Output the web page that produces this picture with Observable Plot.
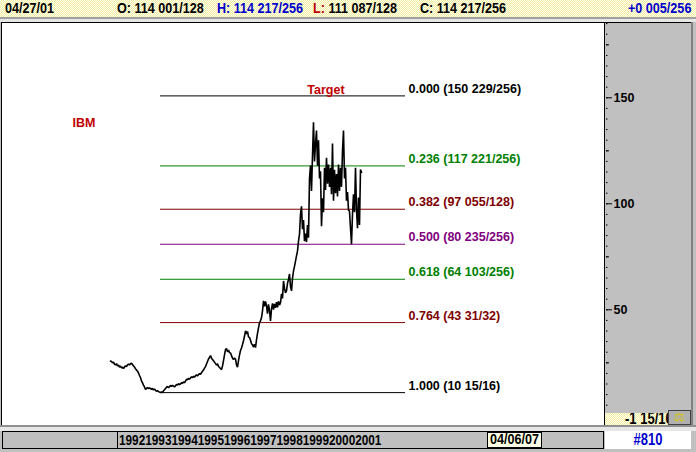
<!DOCTYPE html>
<html><head><meta charset="utf-8">
<script src="https://cdn.jsdelivr.net/npm/d3@7"></script>
<script src="https://cdn.jsdelivr.net/npm/@observablehq/plot@0.6"></script>
<style>
body{margin:0;width:696px;height:452px;overflow:hidden;background:#c0c0c0;position:relative;font-family:"Liberation Sans",Arial,sans-serif;}
.abs{position:absolute;box-sizing:border-box;}
.tall{font-family:"Liberation Sans",Arial,sans-serif;font-weight:bold;transform:scaleY(1.2);transform-origin:0 50%;white-space:nowrap;}
.stip{background:repeating-conic-gradient(#f1ec9e 0 25%, #fffff4 0 50%) 0 0/2px 2px;}
#plot svg{overflow:visible;}
#plot g[aria-label="y-axis tick label"] text{font-family:"Liberation Sans",Arial,sans-serif;font-weight:bold;font-size:12.5px;}
</style></head>
<body>
<div class="abs stip" style="left:0;top:0;width:696px;height:17px;"></div>
<div class="abs" style="left:0;top:17px;width:696px;height:2px;background:#a0a0a0;"></div>
<div class="abs" style="left:0;top:19px;width:696px;height:3px;background:#e6e6e6;"></div>
<div class="abs" style="left:1px;top:22px;width:692px;height:403px;background:#000;"></div>
<div class="abs" style="left:2px;top:23px;width:602px;height:402px;background:#fff;"></div>
<div class="abs" style="left:605px;top:23px;width:86px;height:402px;background:#c0c0c0;"></div>
<div class="abs" style="left:691px;top:22px;width:2px;height:403px;background:#808080;"></div>
<div class="abs" style="left:0;top:425px;width:696px;height:2px;background:#909090;"></div>
<div class="abs" style="left:0;top:427px;width:696px;height:4px;background:#e6e6e6;"></div>

<div id="plot" class="abs" style="left:3px;top:23px;"></div>

<div class="abs stip" style="left:605px;top:413px;width:63px;height:12px;overflow:hidden;">
  <div id="lowlab" class="abs tall" style="left:20px;top:-2px;font-size:13px;line-height:15px;"></div>
</div>
<div class="abs" style="left:668px;top:410px;width:23px;height:15px;background:#b0b0b0;border:1px solid #404040;font-size:12px;line-height:13px;text-align:center;color:#d8c800;font-family:'DejaVu Sans',sans-serif;">⚖</div>

<div class="abs" style="left:2px;top:431px;width:602px;height:18px;background:#c0c0c0;border:1px solid #000;"></div>
<div class="abs" style="left:117px;top:431px;width:1px;height:18px;background:#000;"></div>
<div id="years" class="abs tall" style="left:119px;top:431px;height:18px;font-size:11.8px;line-height:18px;color:#000;"></div>
<div class="abs" style="left:487px;top:432px;width:55px;height:16px;background:#ffffe6;border:1px solid #000;"></div>
<div id="dbox" class="abs tall" style="left:489px;top:432px;width:51px;height:16px;font-size:12.6px;line-height:15px;text-align:center;transform-origin:50% 50%;"></div>
<div class="abs" style="left:605px;top:431px;width:86px;height:18px;background:#fff;"></div>
<div id="fid" class="abs tall" style="left:605px;top:431px;width:86px;height:18px;font-size:13px;line-height:18px;text-align:center;color:#0000cc;transform-origin:50% 50%;"></div>

<div id="topbar"></div>

<script>
// ---- data ----
const headerDate = "04/27/01";
const quoteLabels = ["O:", "H:", "L:", "C:"];
const quoteValues = ["114 001/128", "114 217/256", "111 087/128", "114 217/256"];
const changeLabel = "+0 005/256";
const yearLabels = ["1992","1993","1994","1995","1996","1997","1998","1999","2000","2001"];
const footerDate = "04/06/07";
const footerId = "#810";
const scaleLowLabel = "-1 15/16";

// IBM closes, one reading every two weeks, ending 2001-04-27
const lastDate = "2001-04-27";
const stepDays = 14;
const closes = [
 25.8,25.6,25.0,25.3,24.4,24.0,24.6,23.5,23.9,23.0,
 23.4,22.6,22.9,22.3,23.0,23.6,23.2,24.0,24.3,24.0,
 24.6,24.8,24.2,23.5,23.0,22.2,21.6,21.0,20.2,19.0,
 18.0,16.5,15.5,14.5,13.6,12.4,12.9,13.3,12.8,13.2,
 12.9,12.5,12.9,12.2,12.6,12.0,11.6,11.9,11.4,11.2,
 10.94,11.3,11.0,11.8,12.3,12.9,13.5,13.8,13.3,13.7,
 14.3,13.9,14.4,14.0,13.6,14.2,14.8,14.5,15.2,14.7,
 15.0,15.6,15.3,16.0,15.6,16.4,17.2,17.0,17.7,17.3,
 17.8,18.4,18.0,18.6,18.2,18.9,19.3,18.8,19.4,19.9,
 19.6,20.3,21.0,21.6,22.5,23.2,24.4,25.6,26.8,27.6,
 28.4,27.2,26.6,26.0,25.3,24.6,23.9,24.5,23.4,22.8,
 22.3,21.8,23.5,26.0,28.7,31.2,31.7,30.2,31.0,29.8,
 29.6,28.4,27.2,26.5,27.3,26.8,24.0,22.9,26.0,28.6,
 30.8,32.0,33.6,35.4,37.5,40.1,38.6,39.8,37.2,36.9,
 35.6,34.0,33.5,32.4,33.8,32.2,35.8,38.9,41.5,43.9,
 44.8,46.2,49.5,54.2,51.6,53.9,51.9,48.2,52.6,49.7,
 44.8,50.4,53.0,50.1,52.8,50.9,53.6,51.2,54.0,52.2,
 53.3,57.5,55.4,63.6,60.1,58.0,58.9,62.5,64.3,66.9,
 61.0,58.9,64.8,68.3,70.5,73.0,75.4,77.7,82.4,85.7,
 95.1,98.8,88.0,92.3,82.4,86.0,82.0,90.0,84.0,112.0,
 118.0,106.0,122.8,138.4,120.0,128.4,134.6,118.0,130.0,112.0,
 115.3,89.4,102.6,96.0,117.0,106.5,121.7,109.5,118.5,108.0,
 117.0,104.5,128.4,101.5,116.0,105.0,114.0,103.5,118.5,106.0,
 117.0,108.0,125.0,134.6,112.0,117.0,101.5,105.5,97.0,96.5,
 88.5,81.0,95.0,104.5,96.0,117.0,97.5,88.5,103.0,90.0,116.2,114.85
];

const fibRatios = ["0.000","0.236","0.382","0.500","0.618","0.764","1.000"];
const fibPrices = [150.895, 117.863, 97.430, 80.918, 64.402, 43.969, 10.938];
const fibPriceLabels = ["150 229/256","117 221/256","97 055/128","80 235/256","64 103/256","43 31/32","10 15/16"];
const fibColors = ["#000000","#008000","#800000","#800080","#008000","#800000","#000000"];
const fibStart = "1993-08-13";
const fibEnd = "2003-01-03";

const annotations = [
  {text: "Target", date: "1999-12-16", value: 153.9},
  {text: "IBM", date: "1990-09-07", value: 137.9}
];
const yTickLabels = [50, 100, 150];
const yMidTicks = [25, 75, 125, 175];

// ---- build ----
const end = new Date(lastDate);
const series = closes.map((c, i) => ({
  date: new Date(+end - (closes.length - 1 - i) * stepDays * 864e5),
  close: c
}));
const fib = fibRatios.map((r, i) => ({
  ratio: r, price: fibPrices[i], label: fibPriceLabels[i], color: fibColors[i]
}));
const ann = annotations.map(a => ({...a, date: new Date(a.date)}));

const chart = Plot.plot({
  width: 690, height: 402,
  marginLeft: 0, marginRight: 88, marginTop: 0, marginBottom: 0,
  style: {background: "transparent", fontFamily: "'Liberation Sans', Arial, sans-serif", overflow: "visible"},
  x: {type: "utc", domain: [series[0].date, series[series.length - 1].date], range: [107, 358], axis: null},
  y: {domain: [0, 150], range: [392.3, 74.3]},
  marks: [
    Plot.ruleY(fib, {y: "price", x1: () => new Date(fibStart), x2: () => new Date(fibEnd), stroke: "color", strokeWidth: 1}),
    Plot.lineY(series, {x: "date", y: "close", stroke: "#000", strokeWidth: 1.6, strokeLinejoin: "miter"}),
    Plot.text(fib, {
      x: () => new Date(fibEnd), y: "price",
      text: d => `${d.ratio} (${d.label})`, fill: "color",
      textAnchor: "start", lineAnchor: "bottom", dx: 3, dy: -3,
      fontSize: 12.5, fontWeight: "bold"
    }),
    Plot.text(ann, {x: "date", y: "value", text: "text", fill: "#c00000", fontSize: 12.5, fontWeight: "bold"}),
    Plot.axisY({anchor: "right", ticks: d3.range(0, 190, 5), tickSize: 1.5, text: null, label: null}),
    Plot.axisY({anchor: "right", ticks: yMidTicks, tickSize: 3, text: null, label: null}),
    Plot.axisY({anchor: "right", ticks: yTickLabels, tickSize: 6, tickPadding: 2, label: null, fill: "#000"})
  ]
});
document.getElementById("plot").appendChild(chart);

// HTML text parts
const tb = document.getElementById("topbar");
function put(left, html) {
  const d = document.createElement("div");
  d.className = "abs tall";
  d.style.cssText = `left:${left}px;top:0px;font-size:12.6px;line-height:17px;`;
  d.innerHTML = html;
  tb.appendChild(d);
}
put(5, headerDate);
put(117, `${quoteLabels[0]} ${quoteValues[0]}`);
put(217, `<span style="color:#0000cc">${quoteLabels[1]} ${quoteValues[1]}</span>`);
put(313, `<span style="color:#c00000">${quoteLabels[2]}</span> ${quoteValues[2]}`);
put(420, `${quoteLabels[3]} ${quoteValues[3]}`);
put(628, `<span style="color:#0000cc">${changeLabel}</span>`);
document.getElementById("years").textContent = yearLabels.join("");
document.getElementById("dbox").textContent = footerDate;
document.getElementById("fid").textContent = footerId;
document.getElementById("lowlab").textContent = scaleLowLabel;
</script>
</body></html>
